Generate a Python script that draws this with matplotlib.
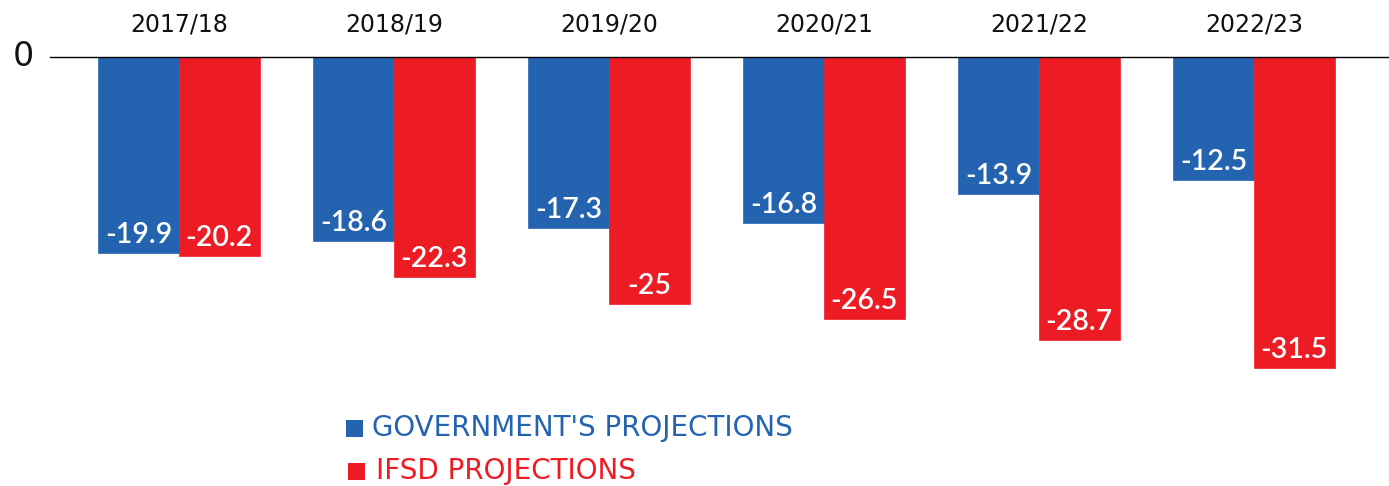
import matplotlib
matplotlib.use("Agg")
import matplotlib.pyplot as plt
from matplotlib.patches import Rectangle
import numpy as np

years = ["2017/18", "2018/19", "2019/20", "2020/21", "2021/22", "2022/23"]
gov = [-19.9, -18.6, -17.3, -16.8, -13.9, -12.5]
ifsd = [-20.2, -22.3, -25.0, -26.5, -28.7, -31.5]
gov_labels = ["-19.9", "-18.6", "-17.3", "-16.8", "-13.9", "-12.5"]
ifsd_labels = ["-20.2", "-22.3", "-25", "-26.5", "-28.7", "-31.5"]
series_names = ["GOVERNMENT'S PROJECTIONS", "IFSD PROJECTIONS"]

BLUE = "#2463B0"
RED = "#ED1C24"
plt.rcParams['font.family'] = ["DejaVu Sans"]

W, H = 1389, 486
fig = plt.figure(figsize=(W / 100, H / 100), dpi=100)

# axes: left px 50, right px 1389, top px 57 (zero), bottom px 400
ax = fig.add_axes([50 / W, 1 - 400 / H, (1389 - 50) / W, (400 - 57) / H])
x = np.arange(len(years))
bw = 0.375
ax.bar(x - bw / 2, gov, width=bw, color=BLUE, edgecolor=BLUE, linewidth=0.5)
ax.bar(x + bw / 2, ifsd, width=bw, color=RED, edgecolor=RED, linewidth=0.5)

ax.set_xlim(-0.6, 5.628)
ax.set_ylim(-34.75, 0)

for i in range(len(years)):
    ax.annotate(gov_labels[i], (x[i] - bw / 2, gov[i]), xytext=(0, 10),
                textcoords="offset pixels", ha="center", va="baseline",
                color="white", fontsize=20.5, fontweight="semibold",
                family=["Lato", "DejaVu Sans"])
    ax.annotate(ifsd_labels[i], (x[i] + bw / 2, ifsd[i]), xytext=(0, 10),
                textcoords="offset pixels", ha="center", va="baseline",
                color="white", fontsize=20.5, fontweight="semibold",
                family=["Lato", "DejaVu Sans"])

for s in ["left", "right", "bottom"]:
    ax.spines[s].set_visible(False)
ax.spines["top"].set_color("black")
ax.spines["top"].set_linewidth(1.0)
ax.xaxis.tick_top()
ax.set_xticks(x)
ax.set_xticklabels(years, fontsize=17, color="#111111")
ax.tick_params(axis="x", length=0, pad=15)
ax.set_yticks([])
ax.set_facecolor("none")

fig.text(23 / W, 1 - 57 / H, "0", fontsize=24, ha="center", va="center", color="#111111")

# legend
leg = [(BLUE, 346, 428, 372), (RED, 348, 471, 376)]
for (c, sx, cy, tx), name in zip(leg, series_names):
    fig.patches.append(Rectangle((sx / W, 1 - (cy + 8.5) / H), 17 / W, 17 / H,
                                 transform=fig.transFigure, facecolor=c, edgecolor="none"))
    fig.text(tx / W, 1 - cy / H, name, fontsize=20, ha="left", va="center", color=c)

fig.savefig("out.png", dpi=100)
